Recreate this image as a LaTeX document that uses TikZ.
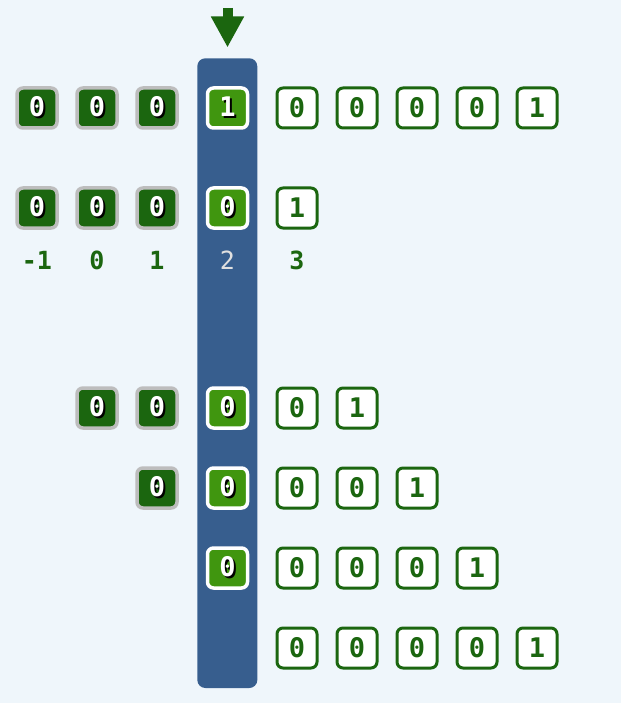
\documentclass[tikz,border=0pt]{standalone}
\usepackage{fontspec}
\setmonofont{DejaVu Sans Mono}
\usetikzlibrary{arrows.meta}
\definecolor{pagebg}{HTML}{EFF6FB}
\definecolor{colblue}{HTML}{375E8E}
\definecolor{darkgr}{HTML}{1B660F}
\definecolor{litgr}{HTML}{40960F}
\definecolor{cellgray}{HTML}{BDBDBD}
\newcommand{\shd}[1]{\makebox[0pt][l]{\hspace{2pt}\raisebox{-2pt}{\color{black}#1}}#1}

\begin{document}
\begin{tikzpicture}[x=1pt,y=-1pt,
		cell/.style={minimum size=40pt,inner sep=0pt,line width=3.5pt,rounded corners=6pt,font=\ttfamily\bfseries\fontsize{27}{27}\selectfont},
		old/.style={cell,fill=darkgr,draw=cellgray,text=white},
		cur/.style={cell,fill=litgr,draw=white,text=white},
		new/.style={cell,fill=white,draw=darkgr,line width=3pt,text=darkgr},
		idx/.style={font=\ttfamily\bfseries\fontsize{25}{25}\selectfont,text=darkgr}]
				\useasboundingbox[fill=pagebg] (0,0) rectangle (621,703);
				\fill[colblue,rounded corners=8pt] (197.3,58.3) rectangle (257.3,688);
				\coordinate (top) at (227.5,8);
				\coordinate (tip) at (227.5,47.5);
				\draw[darkgr,line width=10pt,-{Triangle[width=31pt,length=31pt]}] (top)--(tip);

				\node[old] (a1) at (37,108) {\shd{0}};
				\node[old] (b1) at (97,108) {\shd{0}};
				\node[old] (c1) at (157,108) {\shd{0}};
				\node[cur] (d1) at (227.5,108) {\shd{1}};
				\foreach \x/\v [count=\i] in {297/0,357/0,417/0,477/0,537/1}
					\node[new] (n1\i) at (\x,108) {\v};

				\node[old] (a2) at (37,208) {\shd{0}};
				\node[old] (b2) at (97,208) {\shd{0}};
				\node[old] (c2) at (157,208) {\shd{0}};
				\node[cur] (d2) at (227.5,208) {\shd{0}};
				\node[new] (n21) at (297,208) {1};

				\node[idx] (im1) at (37,260) {-1};
				\node[idx] (i0) at (97,260) {0};
				\node[idx] (i1) at (157,260) {1};
				\node[idx,font=\ttfamily\fontsize{25}{25}\selectfont,text=white!88!black] (i2) at (227.5,260) {2};
				\node[idx] (i3) at (297,260) {3};

				\node[old] (b3) at (97,408) {\shd{0}};
				\node[old] (c3) at (157,408) {\shd{0}};
				\node[cur] (d3) at (227.5,408) {\shd{0}};
				\node[new] (n31) at (297,408) {0};
				\node[new] (n32) at (357,408) {1};

				\node[old] (c4) at (157,488) {\shd{0}};
				\node[cur] (d4) at (227.5,488) {\shd{0}};
				\foreach \x/\v [count=\i] in {297/0,357/0,417/1}
					\node[new] (n4\i) at (\x,488) {\v};

				\node[cur] (d5) at (227.5,568) {\shd{0}};
				\foreach \x/\v [count=\i] in {297/0,357/0,417/0,477/1}
					\node[new] (n5\i) at (\x,568) {\v};

				\foreach \x/\v [count=\i] in {297/0,357/0,417/0,477/0,537/1}
					\node[new] (n6\i) at (\x,648) {\v};
			\end{tikzpicture}
\end{document}
